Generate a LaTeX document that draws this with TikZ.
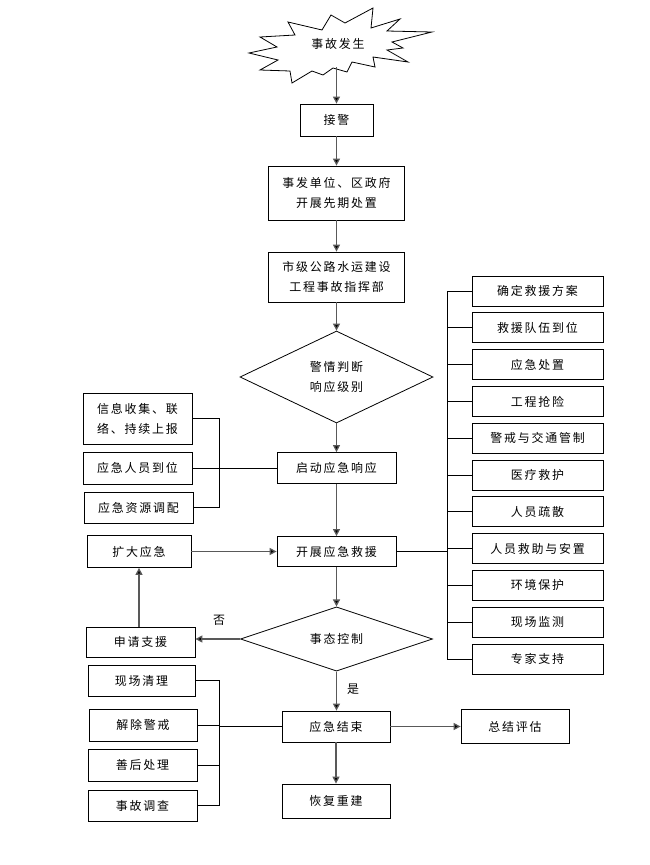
\documentclass[tikz,border=0pt]{standalone}
\usepackage{fontspec}
\setmainfont{Noto Sans CJK SC}[LetterSpace=15]
\usepackage{tikz}
\usetikzlibrary{arrows.meta,calc,shapes.geometric}

\tikzset{
  bx/.style={draw,line width=0.8bp,inner sep=0pt,align=center,font=\fontsize{12}{20}\selectfont},
  dm/.style={draw,diamond,line width=0.8bp,inner sep=0pt,align=center,font=\fontsize{12}{20}\selectfont},
  ar/.style={draw=black!65,line width=1.3bp,-{Triangle[length=7bp,width=7bp,fill=black]}},
  ln/.style={line width=0.8bp},
  rbox/.style={bx,minimum width=131bp,minimum height=30bp}
}

\begin{document}
\begin{tikzpicture}[x=1bp,y=-1bp]
\useasboundingbox (0,0) rectangle (650,865);
% star
\draw[ln] (322,30)--(331,15)--(345,23)--(373,8)--(371,28)--(400,19)--(387,31)--(432,32)
  --(392,42)--(403,48)--(387,50)--(408,62)--(373,57)--(375,67)--(352,62)--(347,72)
  --(333,68)--(323,75)--(312,71)--(292,83)--(290,71)--(260,70)--(278,60)--(249,53)
  --(277,47)--(260,37)--(295,35)--(288,22)--cycle;
\node[font=\fontsize{12}{20}\selectfont] (acc) at (338,44) {事故发生};
\coordinate (accb) at (336.5,67);

% main column
\node[bx,minimum width=73bp,minimum height=32bp] (jj) at (336.5,120) {接警};
\node[bx,minimum width=136bp,minimum height=54bp] (xq) at (336.5,193) {事发单位、区政府\\开展先期处置};
\node[bx,minimum width=136bp,minimum height=50bp] (zh) at (336.5,277) {市级公路水运建设\\工程事故指挥部};
\node[dm,minimum width=193bp,minimum height=92bp] (d1) at (336.5,377) {警情判断\\响应级别};
\node[bx,minimum width=119bp,minimum height=31bp] (qd) at (336.5,468) {启动应急响应};
\node[bx,minimum width=119bp,minimum height=30bp] (kz) at (336.5,551.5) {开展应急救援};
\node[dm,minimum width=192bp,minimum height=63bp] (d2) at (336.5,639) {事态控制};
\node[bx,minimum width=108bp,minimum height=31bp] (js) at (336,726.5) {应急结束};
\node[bx,minimum width=108bp,minimum height=34bp] (zj) at (515,726.5) {总结评估};
\node[bx,minimum width=108bp,minimum height=34bp] (hf) at (336,801) {恢复重建};

% left side
\node[bx,minimum width=109bp,minimum height=51bp] (l1) at (137.5,418.5) {信息收集、联\\络、持续上报};
\node[bx,minimum width=109bp,minimum height=32bp] (l2) at (137.5,468) {应急人员到位};
\node[bx,minimum width=109bp,minimum height=31bp] (l3) at (138.5,507.5) {应急资源调配};
\node[bx,minimum width=104bp,minimum height=32bp] (kd) at (139,551.5) {扩大应急};
\node[bx,minimum width=109bp,minimum height=30bp] (sq) at (140.5,642) {申请支援};
\node[bx,minimum width=107bp,minimum height=31bp] (b1) at (141.5,680.5) {现场清理};
\node[bx,minimum width=108bp,minimum height=32bp] (b2) at (143,725) {解除警戒};
\node[bx,minimum width=109bp,minimum height=32bp] (b3) at (142.5,765) {善后处理};
\node[bx,minimum width=109bp,minimum height=31bp] (b4) at (142.5,805.5) {事故调查};

% right column
\foreach \lab [count=\i] in {确定救援方案,救援队伍到位,应急处置,工程抢险,警戒与交通管制,医疗救护,
  人员疏散,人员救助与安置,环境保护,现场监测,专家支持}
  \node[rbox] (r\i) at (537.5,{291+36.8*(\i-1)}) {\lab};

\node[font=\fontsize{12}{20}\selectfont] (no) at (219,620) {否};
\node[font=\fontsize{12}{20}\selectfont] (yes) at (353,689) {是};

% arrows
\draw[ar] (accb) -- (jj);
\draw[ar] (jj) -- (xq);
\draw[ar] (xq) -- (zh);
\draw[ar] (zh) -- (d1);
\draw[ar] (d1) -- (qd);
\draw[ar] (qd) -- (kz);
\draw[ar] (d2.south) -- (d2.south |- js.north);
\draw[ar] (kz) -- (d2);
\draw[ar] (js) -- (zj);
\draw[ar] (js) -- (hf);
\draw[ar] (d2.west) -- (d2.west -| sq.east);
\draw[ar] (sq.north -| kd) -- (kd.south);
\draw[ar] (kd) -- (kz);

% brackets
\coordinate (lsp) at (219,0);
\coordinate (rsp) at (447,0);
\draw[ln] (l2) -- (qd);
\draw[ln] (l1.east) -| (l3.east -| lsp) -- (l3.east);
\draw[ln] (b1.east) -| (b4.east -| lsp) -- (b4.east);
\draw[ln] (b2.east) -- (b2.east -| lsp);
\draw[ln] (b3.east) -- (b3.east -| lsp);
\draw[ln] (js.west) -- (js.west -| lsp);
\draw[ln] (kz.east) -- (kz.east -| rsp);
\draw[ln] (r1.west -| rsp) -- (r11.west -| rsp);
\foreach \i in {1,...,11}
  \draw[ln] (r\i.west) -- (r\i.west -| rsp);
\end{tikzpicture}
\end{document}
